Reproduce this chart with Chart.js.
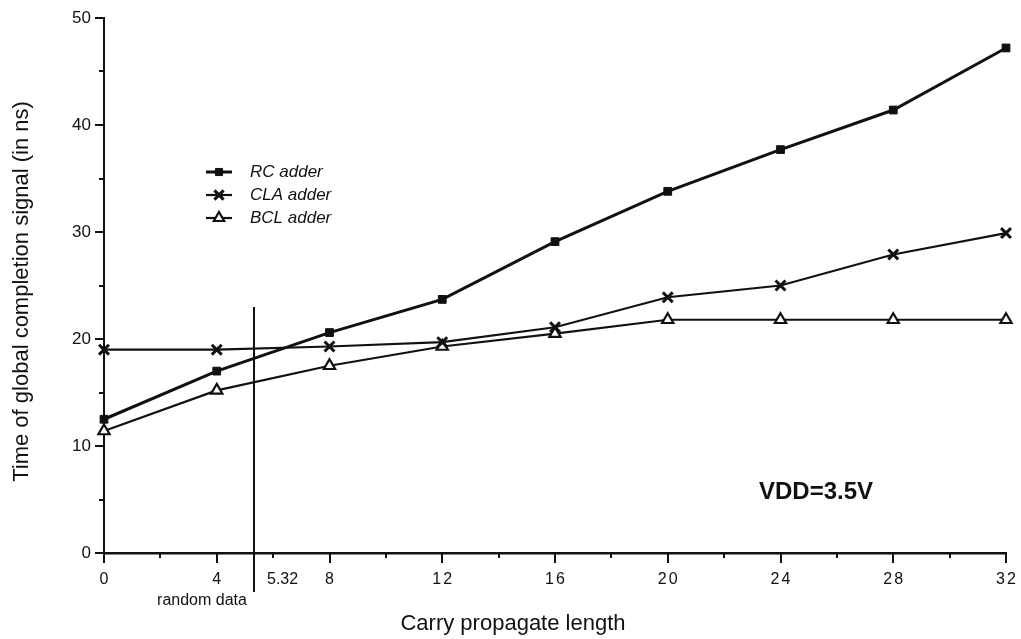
<!DOCTYPE html>
<html>
<head>
<meta charset="utf-8">
<script src="https://cdn.jsdelivr.net/npm/chart.js@4/dist/chart.umd.min.js"></script>
<style>
  html, body { margin: 0; padding: 0; background: #fff; }
  #grafico { display: block; }
</style>
</head>
<body>
<canvas id="grafico" width="1021" height="639"></canvas>
<script>
// ========== DATOS ==========
const longitudes = [0, 4, 8, 12, 16, 20, 24, 28, 32];
const rcAdder  = [12.5, 17.0, 20.6, 23.7, 29.1, 33.8, 37.7, 41.4, 47.2];
const claAdder = [19.0, 19.0, 19.3, 19.7, 21.1, 23.9, 25.0, 27.9, 29.9];
const bclAdder = [11.4, 15.2, 17.5, 19.3, 20.5, 21.8, 21.8, 21.8, 21.8];
const nombresSeries = ["RC adder", "CLA adder", "BCL adder"];
const xTicks = [0, 4, 8, 12, 16, 20, 24, 28, 32];
const yTicks = [0, 10, 20, 30, 40, 50];
const randomDataX = 5.32;
const randomDataTop = 23;

const NEGRO = "#111";
const FUENTE = "'Liberation Sans', Arial, Helvetica, sans-serif";

function puntos(serie) {
  return longitudes.map((x, i) => ({ x: x, y: serie[i] }));
}

// ========== PLUGIN DE DIBUJO ==========
const dibujoExtra = {
  id: "dibujoExtra",
  afterDraw(chart) {
    const ctx = chart.ctx;
    const xs = chart.scales.x, ys = chart.scales.y;
    const area = chart.chartArea;
    ctx.save();
    ctx.strokeStyle = NEGRO;
    ctx.fillStyle = NEGRO;
    ctx.lineWidth = 2;

    // marcas eje x
    for (let v = xs.min; v <= xs.max; v += 2) {
      const px = Math.round(xs.getPixelForValue(v));
      const largo = v % 4 === 0 ? 10 : 5;
      ctx.beginPath();
      ctx.moveTo(px, area.bottom);
      ctx.lineTo(px, area.bottom + largo);
      ctx.stroke();
    }
    // marcas eje y
    for (let v = ys.min; v <= ys.max; v += 5) {
      const py = Math.round(ys.getPixelForValue(v));
      const largo = v % 10 === 0 ? 9 : 5;
      ctx.beginPath();
      ctx.moveTo(area.left, py);
      ctx.lineTo(area.left - largo, py);
      ctx.stroke();
    }

    // etiquetas eje x
    ctx.font = "16px " + FUENTE;
    ctx.textAlign = "center";
    ctx.textBaseline = "middle";
    ctx.letterSpacing = "2px";
    xTicks.forEach(v => {
      ctx.fillText(String(v), xs.getPixelForValue(v) + 1, area.bottom + 27);
    });
    ctx.letterSpacing = "0px";

    // etiquetas eje y
    ctx.font = "17px " + FUENTE;
    ctx.textAlign = "right";
    yTicks.forEach(v => {
      ctx.fillText(String(v), area.left - 13, ys.getPixelForValue(v));
    });

    // linea de datos aleatorios
    const xr = Math.round(xs.getPixelForValue(randomDataX));
    ctx.lineWidth = 2;
    ctx.beginPath();
    ctx.moveTo(xr, ys.getPixelForValue(randomDataTop));
    ctx.lineTo(xr, area.bottom + 39);
    ctx.stroke();
    ctx.font = "16px " + FUENTE;
    ctx.textAlign = "left";
    ctx.fillText(String(randomDataX), xr + 13, area.bottom + 27);
    ctx.textAlign = "center";
    ctx.font = "16px " + FUENTE;
    ctx.fillText("random data", xr - 52, area.bottom + 48);

    // titulos
    ctx.font = "22px " + FUENTE;
    ctx.fillText("Carry propagate length", 513, area.bottom + 71);
    ctx.save();
    ctx.translate(22, (area.top + area.bottom) / 2 + 6);
    ctx.rotate(-Math.PI / 2);
    ctx.fillText("Time of global completion signal (in ns)", 0, 0);
    ctx.restore();

    // anotacion
    ctx.font = "bold 24px " + FUENTE;
    ctx.textAlign = "left";
    ctx.fillText("VDD=3.5V", 759, 492);

    // leyenda
    const filas = [172, 195, 218];
    chart.data.datasets.forEach((ds, i) => {
      const y = filas[i];
      ctx.strokeStyle = NEGRO;
      ctx.lineWidth = ds.borderWidth;
      ctx.beginPath();
      ctx.moveTo(206, y);
      ctx.lineTo(232, y);
      ctx.stroke();
      ctx.fillStyle = ds.pointBackgroundColor;
      ctx.strokeStyle = NEGRO;
      ctx.lineWidth = ds.pointBorderWidth;
      Chart.helpers.drawPoint(ctx, {
        pointStyle: ds.pointStyle,
        radius: ds.pointRadius - 0.5,
        rotation: 0,
        borderWidth: ds.pointBorderWidth
      }, 219, y);
      ctx.fillStyle = NEGRO;
      ctx.font = "italic 17px " + FUENTE;
      ctx.textAlign = "left";
      ctx.fillText(ds.label, 250, y);
    });
    ctx.restore();
  }
};

// ========== GRAFICO ==========
new Chart(document.getElementById("grafico"), {
  type: "line",
  data: {
    datasets: [
      {
        label: nombresSeries[0], data: puntos(rcAdder),
        borderColor: NEGRO, borderWidth: 3,
        pointStyle: "rect", pointRadius: 5.5, pointBorderWidth: 1,
        pointBackgroundColor: NEGRO, pointBorderColor: NEGRO, clip: false
      },
      {
        label: nombresSeries[1], data: puntos(claAdder),
        borderColor: NEGRO, borderWidth: 2.2,
        pointStyle: "crossRot", pointRadius: 7, pointBorderWidth: 3,
        pointBackgroundColor: NEGRO, pointBorderColor: NEGRO, clip: false
      },
      {
        label: nombresSeries[2], data: puntos(bclAdder),
        borderColor: NEGRO, borderWidth: 2.2,
        pointStyle: "triangle", pointRadius: 6.5, pointBorderWidth: 2.2,
        pointBackgroundColor: "#fff", pointBorderColor: NEGRO, clip: false
      }
    ]
  },
  options: {
    responsive: false,
    animation: false,
    devicePixelRatio: 1,
    layout: { padding: { left: 0, top: 18, right: 15, bottom: 0 } },
    plugins: { legend: { display: false }, tooltip: { enabled: false } },
    scales: {
      x: {
        type: "linear", min: 0, max: 32,
        grid: { display: false, drawTicks: false },
        border: { display: true, color: NEGRO, width: 2.5 },
        ticks: { display: false },
        afterFit: s => { s.height = 86; }
      },
      y: {
        min: 0, max: 50,
        grid: { display: false, drawTicks: false },
        border: { display: true, color: NEGRO, width: 2 },
        ticks: { display: false },
        afterFit: s => { s.width = 104; }
      }
    }
  },
  plugins: [dibujoExtra]
});
</script>
</body>
</html>
